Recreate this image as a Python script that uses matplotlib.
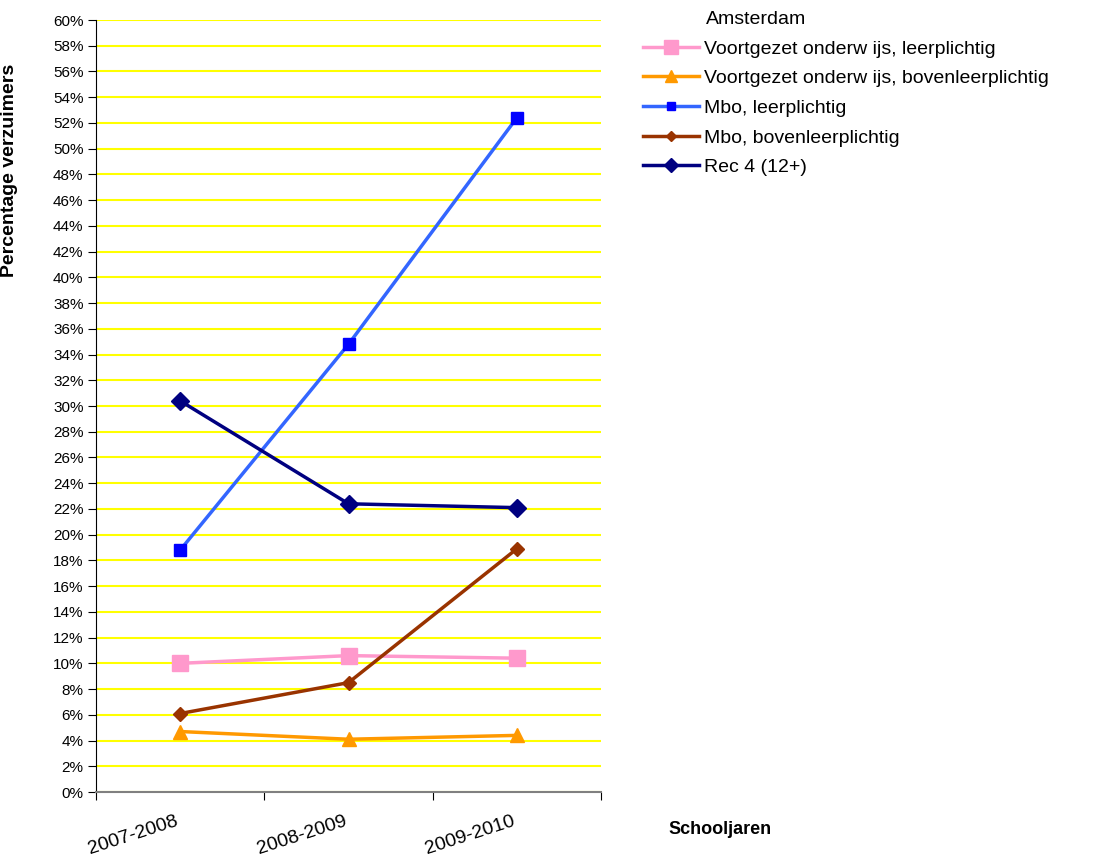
import numpy as np
import matplotlib; matplotlib.use("Agg")
import matplotlib.pyplot as plt
from matplotlib.ticker import MultipleLocator, PercentFormatter

plt.rcParams['font.family'] = ['Liberation Sans', 'DejaVu Sans']

years = ["2007-2008", "2008-2009", "2009-2010"]
vo_leer = [10.0, 10.6, 10.4]
vo_boven = [4.7, 4.1, 4.4]
mbo_leer = [18.8, 34.8, 52.4]
mbo_boven = [6.1, 8.5, 18.9]
rec4 = [30.4, 22.4, 22.1]

series = [
    ("Voortgezet onderw ijs, leerplichtig", vo_leer, "#FF99CC", "#FF99CC", "s", 12),
    ("Voortgezet onderw ijs, bovenleerplichtig", vo_boven, "#FF9900", "#FF9900", "^", 10),
    ("Mbo, leerplichtig", mbo_leer, "#3366FF", "#0000FF", "s", 8),
    ("Mbo, bovenleerplichtig", mbo_boven, "#993300", "#993300", "D", 7),
    ("Rec 4 (12+)", rec4, "#000080", "#000080", "D", 9),
]

fig = plt.figure(figsize=(11.05, 8.59), dpi=100)
ax = fig.add_axes([96/1105, 1-792/859, (601-96)/1105, (792-20)/859])
x = np.arange(len(years))
for name, vals, lc, mc, mk, ms in series:
    ax.plot(x, vals, color=lc, lw=2.5, marker=mk, ms=ms, mfc=mc, mec=mc, label=name, zorder=3)

ax.set_xlim(-0.5, 2.5)
ax.set_ylim(0, 60)
ax.yaxis.set_major_locator(MultipleLocator(2))
ax.yaxis.set_major_formatter(PercentFormatter(decimals=0))
ax.grid(axis="y", color="#FFFF00", lw=1.5, zorder=0)
ax.set_axisbelow(True)
for s in ["top", "right"]:
    ax.spines[s].set_visible(False)
ax.spines["bottom"].set_color("#808080")
ax.spines["bottom"].set_linewidth(1.5)
ax.spines["left"].set_color("#000000")
ax.tick_params(axis="y", labelsize=11, length=6, pad=3)
ax.set_xticks([-0.5, 0.5, 1.5, 2.5])
ax.set_xticklabels([])
ax.tick_params(axis="x", length=6)
for i, lab in enumerate(years):
    ax.text(i - 0.03, -1.6, lab, rotation=18, rotation_mode="anchor",
            ha="right", va="top", fontsize=14)

ax.set_ylabel("Percentage verzuimers", fontsize=14, fontweight="bold")
ax.yaxis.set_label_coords((18-96)/505, (792-170)/772)
fig.text(720/1105, 1-830/859, "Schooljaren", fontsize=13, fontweight="bold", ha="center", va="center")

fig.text(706/1105, 1-20/859, "Amsterdam", fontsize=14, ha="left", va="center")
fig.legend(loc="upper left", bbox_to_anchor=(643/1105, 1-40/859), frameon=False,
           fontsize=14, handlelength=2.9, handletextpad=0.25, labelspacing=0.62,
           borderaxespad=0, borderpad=0, markerscale=0.8)

fig.savefig("out.png", dpi=100)
